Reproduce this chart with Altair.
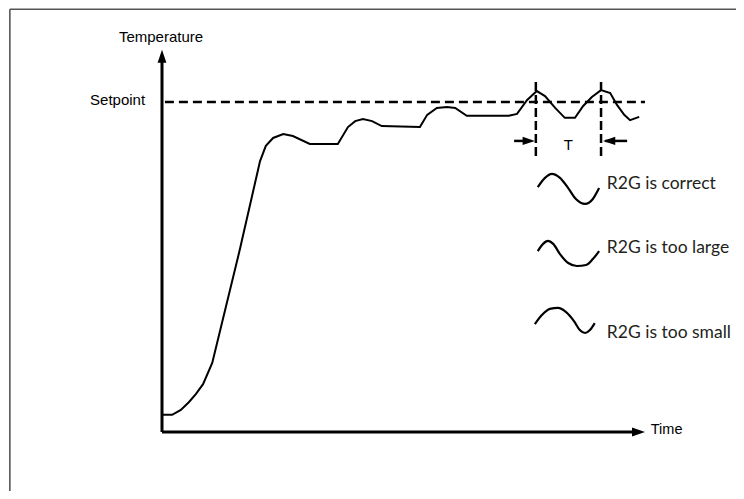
import altair as alt
import pandas as pd

# ---- data (time units, temperature units; setpoint = 100) ----
curve_t = [0, 2.1, 3.9, 5.6, 7.0, 8.5, 10.4, 16.1, 20.3, 21.5, 23.0, 25.1, 27.1, 30.6,
           36.4, 38.5, 40.0, 41.6, 43.5, 45.5, 53.4, 54.9, 56.9, 59.0, 60.7, 63.1,
           71.8, 73.5, 75.6, 77.6, 79.3, 81.4, 83.4, 85.5, 87.2, 89.0, 90.9, 92.8,
           94.2, 95.7, 96.9, 98.8]
curve_T = [5.2, 5.2, 6.7, 9.1, 11.5, 14.5, 20.9, 55.2, 82.1, 86.7, 89.1, 90.3, 89.7, 87.3,
           87.3, 92.4, 94.2, 94.8, 94.2, 92.7, 92.4, 96.1, 98.2, 98.5, 98.2, 95.8,
           95.8, 96.4, 100.6, 103.3, 101.8, 98.2, 95.2, 95.2, 98.8, 101.5, 103.6, 102.7,
           99.1, 96.1, 94.5, 95.5]

setpoint = 100
period_t = [77.4, 90.9]          # peaks marking period T
period_T_range = [83.6, 107.3]

wave_names = ["R2G is correct", "R2G is too large", "R2G is too small"]
wave_t = [
    [77.8, 79.3, 80.7, 82.4, 84.1, 85.7, 87.6, 89.2, 90.5],
    [77.8, 78.9, 79.9, 81.0, 82.4, 84.1, 85.9, 87.8, 89.2, 90.5],
    [77.2, 78.7, 80.3, 82.0, 83.6, 85.3, 86.5, 87.6, 88.6, 89.6],
]
wave_T = [
    [74.2, 77.0, 78.2, 77.0, 73.9, 70.6, 69.1, 70.6, 73.9],
    [54.8, 57.0, 57.9, 57.0, 53.9, 51.2, 50.3, 50.6, 52.4, 54.8],
    [32.7, 35.5, 37.3, 37.6, 36.4, 33.6, 30.9, 30.0, 30.9, 33.0],
]
wave_label_t = 92.1
wave_label_T = [73.5, 54.2, 28.4]

axis_labels = ["Temperature", "Setpoint", "Time", "T"]
axis_label_t = [-0.2, -3.5, 101.2, 84.1]
axis_label_T = [118.3, 99.1, -0.7, 85.4]
axis_label_align = ["center", "right", "left", "center"]

# ---- scales ----
xs = alt.Scale(domain=[-31.884, 118.84], nice=False, zero=False)
ys = alt.Scale(domain=[-17.88, 128.48], nice=False, zero=False)

def X(f):
    return alt.X(f, type="quantitative", scale=xs, axis=None)

def Y(f):
    return alt.Y(f, type="quantitative", scale=ys, axis=None)

# frame (decorative border: top & left)
frame_h = pd.DataFrame({"t": [-31.5], "t2": [118.84], "T": [128.1]})
frame_v = pd.DataFrame({"t": [-31.5], "T": [-17.88], "T2": [128.1]})
frame = (
    alt.Chart(frame_h).mark_rule(color="#555555", strokeWidth=1.6).encode(x=X("t"), x2="t2", y=Y("T"))
    + alt.Chart(frame_v).mark_rule(color="#555555", strokeWidth=1.6).encode(x=X("t"), y=Y("T"), y2="T2")
)

# axes
axes_h = pd.DataFrame({"t": [0], "t2": [97.8], "T": [0]})
axes_v = pd.DataFrame({"t": [0], "T": [0], "T2": [112.5]})
axes = (
    alt.Chart(axes_h).mark_rule(color="black", strokeWidth=3).encode(x=X("t"), x2="t2", y=Y("T"))
    + alt.Chart(axes_v).mark_rule(color="black", strokeWidth=3).encode(x=X("t"), y=Y("T"), y2="T2")
)

# arrow heads
arrow_path = "M0,0L-0.68,2L0.68,2Z"
heads = pd.DataFrame({
    "t": [0, 100, 77.2, 91.3],
    "T": [115.8, 0, 88.2, 88.2],
    "a": [0, 90, 90, 270],
    "s": [169, 169, 150, 150],
})
arrowheads = alt.Chart(heads).mark_point(
    shape=arrow_path, filled=True, color="black", opacity=1
).encode(
    x=X("t"), y=Y("T"),
    angle=alt.Angle("a:Q", scale=None),
    size=alt.Size("s:Q", scale=None),
)

# setpoint dashed line
sp = pd.DataFrame({"t": [0.6], "t2": [100], "T": [setpoint]})
sp_line = alt.Chart(sp).mark_rule(color="black", strokeWidth=2.5, strokeDash=[9, 5]).encode(
    x=X("t"), x2="t2", y=Y("T"))

# period markers
per = pd.DataFrame({"t": period_t, "T": [period_T_range[0]] * 2, "T2": [period_T_range[1]] * 2})
per_lines = alt.Chart(per).mark_rule(color="black", strokeWidth=2.5, strokeDash=[9, 4]).encode(
    x=X("t"), y=Y("T"), y2="T2")
shafts = pd.DataFrame({"t": [72.9, 91.8], "t2": [76.0, 96.3], "T": [88.2, 88.2]})
shaft_lines = alt.Chart(shafts).mark_rule(color="black", strokeWidth=2.5).encode(
    x=X("t"), x2="t2", y=Y("T"))

# response curve
curve = pd.DataFrame({"t": curve_t, "T": curve_T, "i": range(len(curve_t))})
curve_line = alt.Chart(curve).mark_line(color="black", strokeWidth=2).encode(
    x=X("t"), y=Y("T"), order="i:Q")

# legend waves
rows = []
for name, ts, Ts in zip(wave_names, wave_t, wave_T):
    for k, (a, b) in enumerate(zip(ts, Ts)):
        rows.append({"w": name, "t": a, "T": b, "i": k})
waves = pd.DataFrame(rows)
wave_lines = alt.Chart(waves).mark_line(color="black", strokeWidth=2.2, interpolate="monotone").encode(
    x=X("t"), y=Y("T"), detail="w:N", order="i:Q")

# texts
lab = pd.DataFrame({"label": axis_labels, "t": axis_label_t, "T": axis_label_T, "al": axis_label_align})
texts = []
for _, r in lab.iterrows():
    texts.append(
        alt.Chart(pd.DataFrame([r])).mark_text(
            font="Liberation Sans", fontSize=15 if r["label"] != "Time" else 14.5,
            align=r["al"], baseline="alphabetic", color="black"
        ).encode(x=X("t"), y=Y("T"), text="label:N")
    )
wl = pd.DataFrame({"label": wave_names, "t": [wave_label_t] * 3, "T": wave_label_T})
wave_text = alt.Chart(wl).mark_text(
    font="Lato", fontSize=17.5, align="left", baseline="alphabetic", color="#231f20"
).encode(x=X("t"), y=Y("T"), text="label:N")

chart = alt.layer(
    frame, axes, sp_line, per_lines, shaft_lines, arrowheads, curve_line, wave_lines,
    *texts, wave_text
).properties(
    width=728, height=483, padding=0,
    autosize=alt.AutoSizeParams(type="none"),
).configure_view(stroke=None)

chart.save("out.html", embed_options={"renderer": "svg", "actions": False})
